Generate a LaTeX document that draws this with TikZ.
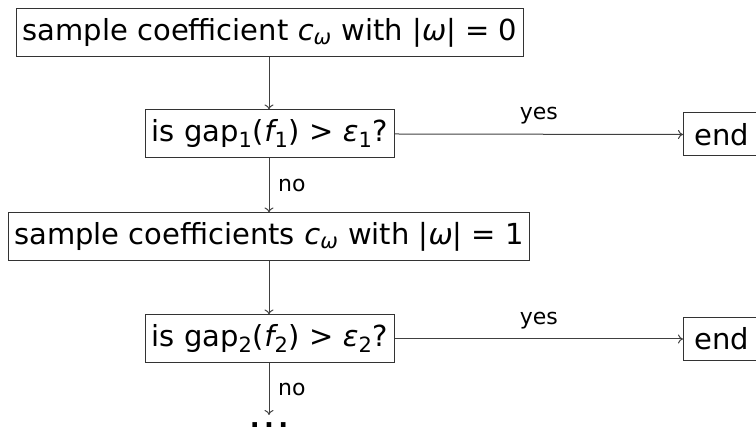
\documentclass[tikz,border=0pt]{standalone}
\usepackage{fontspec}
\usetikzlibrary{arrows.meta}
\setmainfont{DejaVu Sans}
\newcommand\mi[1]{\mbox{\itshape #1}}
\newcommand\ms[1]{\mbox{\fontsize{10.5}{12}\selectfont #1}}
\begin{document}
\begin{tikzpicture}[x=0.5pt,y=-0.5pt,
  box/.style={draw=black!80, line width=0.5pt, inner xsep=3pt, inner ysep=0pt, minimum height=24pt, font=\fontsize{14.5}{17}\selectfont},
  endbox/.style={box, minimum height=21.5pt, inner xsep=5.5pt},
  conn/.style={draw=black!75, line width=0.5pt, -{To[width=4.5pt,length=2.5pt]}},
  lab/.style={font=\fontsize{11}{13}\selectfont}]
\useasboundingbox (0,0) rectangle (756,437);
\clip (0,0) rectangle (756,437);
\node[box] (s0) at (270,32.5) {sample coefficient $\mi{c}_{\ms{\itshape ω}}$ with |\mi{ω}| = 0};
\node[box] (q1) at (270,134) {is gap$_{\ms{1}}$(\mi{f}$_{\ms{1}}$) > \mi{ε}$_{\ms{1}}$?};
\node[box] (s1) at (269,237) {sample coefficients $\mi{c}_{\ms{\itshape ω}}$ with |\mi{ω}| = 1};
\node[box] (q2) at (270,339) {is gap$_{\ms{2}}$(\mi{f}$_{\ms{2}}$) > \mi{ε}$_{\ms{2}}$?};
\node[endbox, anchor=west] (e1) at (683,134.5) {end};
\node[endbox, anchor=west] (e2) at (683,339) {end};
\node[font=\fontsize{13}{14}\selectfont\bfseries, inner sep=0pt, text height=6.3pt, text depth=0pt, anchor=north] (dots) at (269,415) {.\kern2.2pt.\kern2.2pt.};
\draw[conn] (s0.south -| 269,0) -- (q1.north -| 269,0);
\draw[conn] (q1.south -| 269,0) -- node[lab, right, xshift=1pt] {no} (s1.north -| 269,0);
\draw[conn] (s1.south -| 269,0) -- (q2.north -| 269,0);
\draw[conn] (q2.south -| 269,0) -- node[lab, right, xshift=1pt] {no} (dots.north);
\draw[conn] (q1.east) -- node[lab, above, yshift=1.5pt] {yes} (e1.west);
\draw[conn] (q2.east) -- node[lab, above, yshift=1.5pt] {yes} (e2.west);
\end{tikzpicture}
\end{document}
